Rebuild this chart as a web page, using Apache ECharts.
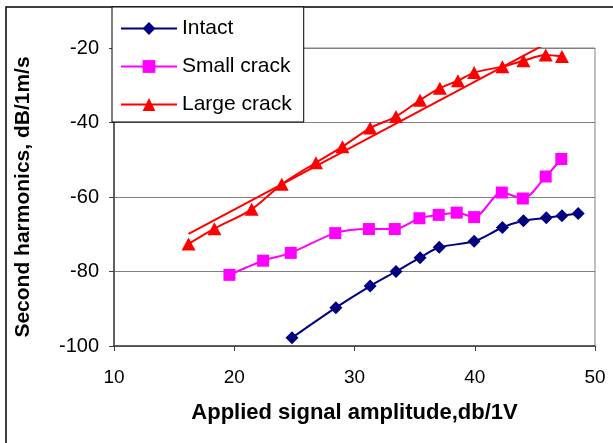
<!DOCTYPE html>
<html>
<head>
<meta charset="utf-8">
<script src="https://cdn.jsdelivr.net/npm/echarts@6/dist/echarts.min.js"></script>
<style>
  html, body { margin: 0; padding: 0; background: #fff; }
  #main { width: 613px; height: 443px; }
</style>
</head>
<body>
<div id="main"></div>
<script>
// values
const intactX = [24.8, 28.45, 31.3, 33.45, 35.45, 37.05, 39.95, 42.3, 44.05, 45.95, 47.25, 48.6]
const intactY = [-97.8, -89.7, -83.9, -80.0, -76.3, -73.5, -71.9, -68.2, -66.4, -65.6, -65.0, -64.4]

const smallX = [19.6, 22.4, 24.7, 28.4, 31.2, 33.35, 35.4, 37.0, 38.5, 39.95, 42.25, 44.0, 45.9, 47.2]
const smallY = [-80.9, -77.1, -75.0, -69.7, -68.6, -68.6, -65.7, -64.8, -64.2, -65.4, -58.8, -60.4, -54.5, -49.8]

const largeX = [16.2, 18.35, 21.45, 23.95, 26.8, 29.0, 31.3, 33.45, 35.45, 37.1, 38.6, 39.95, 42.3, 44.05, 45.9, 47.25]
const largeY = [-72.6, -68.5, -63.3, -56.6, -50.8, -46.5, -41.5, -38.4, -34.0, -30.8, -28.8, -26.6, -25.0, -23.4, -21.9, -22.3]

// linear trend line drawn through the large crack points (end points)
const trendX = [16.2, 47.25]
const trendY = [-69.9, -16.6]

const xTicks = [10, 20, 30, 40, 50]
const yTicks = [-100, -80, -60, -40, -20]

const pairs = (xs, ys) => xs.map((x, i) => [x, ys[i]])

const font = 'Liberation Sans, Arial, sans-serif'

const myChart = echarts.init(document.getElementById('main'))
const option = {
  animation: false,
  backgroundColor: '#fff',
  textStyle: { fontFamily: font },
  graphic: [
    {
      type: 'rect',
      shape: { x: 6, y: 7, width: 640, height: 460 },
      style: { fill: 'none', stroke: '#000', lineWidth: 1.5 },
      z: -1,
    },
  ],
  grid: {
    left: 114,
    right: 18,
    top: 48,
    bottom: 97,
    show: true,
    borderColor: '#808080',
    borderWidth: 1,
  },
  legend: {
    data: ['Intact', 'Small crack', 'Large crack'],
    orient: 'vertical',
    left: 112,
    top: 7,
    itemWidth: 56,
    itemHeight: 16,
    itemGap: 17,
    padding: [11, 12, 7, 8],
    backgroundColor: '#fff',
    borderColor: '#000',
    borderWidth: 1,
    textStyle: { fontSize: 21, color: '#000', fontFamily: font },
  },
  xAxis: {
    type: 'value',
    min: xTicks[0],
    max: xTicks[xTicks.length - 1],
    interval: 10,
    name: 'Applied signal amplitude,db/1V',
    nameLocation: 'middle',
    nameGap: 56,
    nameTextStyle: { fontSize: 22, fontWeight: 'bold', color: '#000', fontFamily: font },
    axisLine: { lineStyle: { color: '#404040', width: 1.5 } },
    axisTick: { length: 5, lineStyle: { color: '#404040' } },
    axisLabel: { fontSize: 19, color: '#000', margin: 22, fontFamily: font },
    splitLine: { show: false },
  },
  yAxis: {
    type: 'value',
    min: yTicks[0],
    max: yTicks[yTicks.length - 1],
    interval: 20,
    name: 'Second harmonics, dB/1m/s',
    nameLocation: 'middle',
    nameGap: 80,
    nameTextStyle: { fontSize: 21, fontWeight: 'bold', color: '#000', fontFamily: font },
    axisLine: { show: true, lineStyle: { color: '#404040', width: 1.5 } },
    axisTick: { show: true, length: 5, lineStyle: { color: '#404040' } },
    axisLabel: { fontSize: 20, color: '#000', margin: 15, fontFamily: font },
    splitLine: { show: true, lineStyle: { color: '#808080', width: 1 } },
  },
  series: [
    {
      name: 'Intact',
      type: 'line',
      data: pairs(intactX, intactY),
      smooth: 0.3,
      symbol: 'diamond',
      symbolSize: 13,
      color: '#000080',
      lineStyle: { width: 2, color: '#000080' },
      itemStyle: { color: '#000080' },
    },
    {
      name: 'Small crack',
      type: 'line',
      data: pairs(smallX, smallY),
      smooth: 0.3,
      symbol: 'rect',
      symbolSize: 12,
      color: '#ff00ff',
      lineStyle: { width: 2, color: '#ff00ff' },
      itemStyle: { color: '#ff00ff' },
    },
    {
      name: 'Large crack',
      type: 'line',
      data: pairs(largeX, largeY),
      smooth: 0.3,
      symbol: 'triangle',
      symbolSize: [14, 13],
      color: '#ff0000',
      lineStyle: { width: 2, color: '#ff0000' },
      itemStyle: { color: '#ff0000' },
    },
    {
      name: 'trend',
      type: 'line',
      data: pairs(trendX, trendY),
      symbol: 'none',
      clip: true,
      lineStyle: { width: 2, color: '#ff0000' },
    },
  ],
}
option && myChart.setOption(option)
</script>
</body>
</html>
